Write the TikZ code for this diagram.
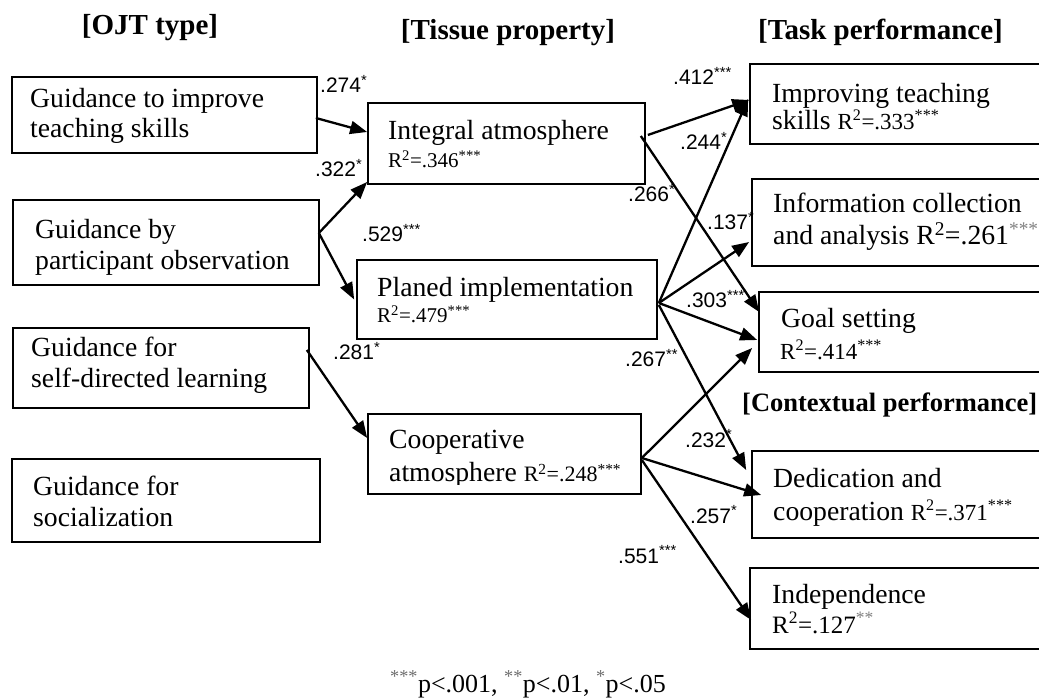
\documentclass[tikz,border=0pt]{standalone}
\usepackage{fontspec}
\setmainfont{Liberation Serif}
\setsansfont{Liberation Sans}
\usetikzlibrary{arrows.meta,calc}
\begin{document}
\begin{tikzpicture}[x=1pt,y=-1pt,
  box/.style={draw, line width=1.7pt, inner sep=0pt},
  arr/.style={line width=2.3pt, -{Triangle[length=17pt,width=13pt]}},
  txt/.style={anchor=base west, inner sep=0pt, font=\fontsize{27.7}{31}\selectfont},
  rsq/.style={anchor=base west, inner sep=0pt, font=\fontsize{21}{24}\selectfont},
  lab/.style={anchor=base west, inner sep=0pt, font=\sffamily\fontsize{21}{24}\selectfont},
  hdr/.style={anchor=base, inner sep=0pt, font=\bfseries\fontsize{29}{33}\selectfont}]
\useasboundingbox (0,0) rectangle (1039,700);
\clip (0,0) rectangle (1039,700);
% headers
\node[hdr] (h1) at (150,35) {[OJT type]};
\node[hdr] (h2) at (508,40) {[Tissue property]};
\node[hdr, anchor=base west] (h3) at (758,40) {[Task performance]};
\node[hdr, anchor=base west, font=\bfseries\fontsize{26.5}{30}\selectfont] (h4) at (742,412) {[Contextual performance]};
% left boxes
\node[box, minimum width=305pt, minimum height=76pt] (b1) at (164.5,115) {};
\node[box, minimum width=306pt, minimum height=85pt] (b2) at (166,242.5) {};
\node[box, minimum width=296pt, minimum height=80pt] (b3) at (161,368) {};
\node[box, minimum width=308pt, minimum height=83pt] (b4) at (166,500.5) {};
\node[txt] (b1t1) at (30,108) {Guidance to improve};
\node[txt] (b1t2) at (30,138) {teaching skills};
\node[txt] (b2t1) at (35,239) {Guidance by};
\node[txt] (b2t2) at (35,270) {participant observation};
\node[txt] (b3t1) at (31,357) {Guidance for};
\node[txt] (b3t2) at (31,388) {self-directed learning};
\node[txt] (b4t1) at (33,495) {Guidance for};
\node[txt] (b4t2) at (33,526) {socialization};
% middle boxes
\node[box, minimum width=277pt, minimum height=81pt] (m1) at (506.5,143.5) {};
\node[box, minimum width=300pt, minimum height=79pt] (m2) at (507,299.5) {};
\node[box, minimum width=273pt, minimum height=80pt] (m3) at (504.5,454) {};
\node[txt] (m1t1) at (388,140) {Integral atmosphere};
\node[rsq] (m1t2) at (388,168) {R\textsuperscript{2}=.346\textsuperscript{***}};
\node[txt] (m2t1) at (377,297) {Planed implementation};
\node[rsq] (m2t2) at (377,323) {R\textsuperscript{2}=.479\textsuperscript{***}};
\node[txt] (m3t1) at (389,449) {Cooperative};
\begin{scope}
\clip (368,414) rectangle (641,484);
\node[txt] (m3t2) at (389,482) {atmosphere {\fontsize{22}{24}\selectfont R\textsuperscript{2}=.248\textsuperscript{***}}};
\end{scope}
% right boxes
\node[box, minimum width=310pt, minimum height=80pt] (r1) at (905,104) {};
\node[box, minimum width=308pt, minimum height=87pt] (r2) at (906,222.5) {};
\node[box, minimum width=301pt, minimum height=80pt] (r3) at (909.5,332) {};
\node[box, minimum width=308pt, minimum height=87pt] (r4) at (906,494.5) {};
\node[box, minimum width=310pt, minimum height=81pt] (r5) at (905,608.5) {};
\node[txt] (r1t1) at (772,103) {Improving teaching};
\node[txt] (r1t2) at (772,130) {skills {\fontsize{23}{26}\selectfont R\textsuperscript{2}=.333\textsuperscript{***}}};
\node[txt] (r2t1) at (773,213) {Information collection};
\node[txt] (r2t2) at (773,245) {and analysis R\textsuperscript{2}=.261\textcolor{gray}{\textsuperscript{***}}};
\node[txt] (r3t1) at (781,328) {Goal setting};
\node[rsq, font=\fontsize{23}{26}\selectfont] (r3t2) at (780,360) {R\textsuperscript{2}=.414\textsuperscript{***}};
\node[txt] (r4t1) at (773,487) {Dedication and};
\node[txt] (r4t2) at (773,520) {cooperation {\fontsize{23}{26}\selectfont R\textsuperscript{2}=.371\textsuperscript{***}}};
\node[txt] (r5t1) at (772,603) {Independence};
\node[txt, font=\fontsize{25}{28}\selectfont] (r5t2) at (772,633) {R\textsuperscript{2}=.127\textcolor{gray}{\textsuperscript{**}}};
% arrows
\draw[arr] ($(b1.east)+(-2,3)$) -- ($(m1.west)+(0,-11.5)$);
\draw[arr] ($(b2.east)+(-1,-9.5)$) -- ($(m1.west)+(0,38.5)$);
\draw[arr] ($(b2.east)+(-1,-9.5)$) -- ($(m2.west)+(-2,0)$);
\draw[arr] ($(b3.east)+(-3,-18)$) -- ($(m3.west)+(0,-16)$);
\draw[arr] ($(m1.east)+(2,-8.5)$) -- ($(r1.west)+(0,-4)$);
\draw[arr] ($(m1.east)+(-5,-7.5)$) -- ($(r3.west)+(1,-20)$);
\draw[arr] ($(m2.east)+(1,3.5)$) -- ($(r1.west)+(-1,-5)$);
\draw[arr] ($(m2.east)+(1,3.5)$) -- ($(r2.west)+(-2,19.5)$);
\draw[arr] ($(m2.east)+(1,3.5)$) -- ($(r3.west)+(-1,8)$);
\draw[arr] ($(m2.east)+(1,5.5)$) -- ($(r4.west)+(-5,-24.5)$);
\draw[arr] ($(m3.east)+(0,4)$) -- ($(r3.west)+(-6,16)$);
\draw[arr] ($(m3.east)+(0,4)$) -- ($(r4.west)+(10,0.5)$);
\draw[arr] ($(m3.east)+(0,6)$) -- ($(r5.west)+(2,11.5)$);
% path labels
\node[lab] (l1) at (320,93) {.274\textsuperscript{*}};
\node[lab] (l2) at (315,177) {.322\textsuperscript{*}};
\node[lab] (l3) at (362,242) {.529\textsuperscript{***}};
\node[lab] (l4) at (333,360) {.281\textsuperscript{*}};
\node[lab] (l5) at (673,85) {.412\textsuperscript{***}};
\node[lab] (l6) at (680,150) {.244\textsuperscript{*}};
\node[lab] (l7) at (628,202) {.266\textsuperscript{*}};
\node[lab] (l8) at (707,230) {.137\textsuperscript{*}};
\node[lab] (l9) at (686,308) {.303\textsuperscript{***}};
\node[lab] (l10) at (625,367) {.267\textsuperscript{**}};
\node[lab] (l11) at (685,447) {.232\textsuperscript{*}};
\node[lab] (l12) at (690,523) {.257\textsuperscript{*}};
\node[lab] (l13) at (618,563) {.551\textsuperscript{***}};
% footnote
\node[txt, font=\fontsize{26}{29}\selectfont] (fn) at (390,692) {\textcolor{gray!85!black}{\textsuperscript{***}}p<.001, \textcolor{gray!85!black}{\textsuperscript{**}}p<.01, \textcolor{gray!85!black}{\textsuperscript{*}}p<.05};
\end{tikzpicture}
\end{document}
